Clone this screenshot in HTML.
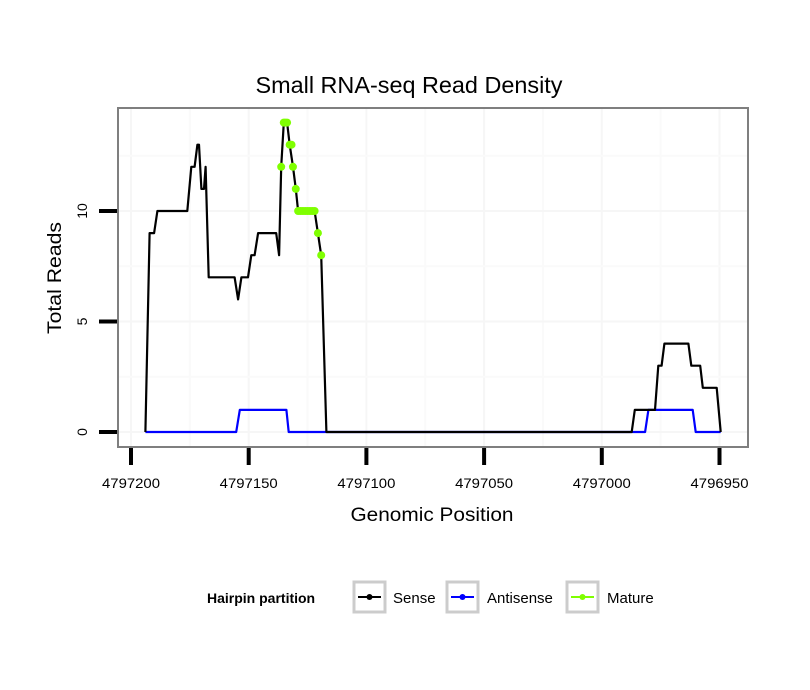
<!DOCTYPE html>
<html><head><meta charset="utf-8"><style>
body{margin:0;background:#fff;}
svg{display:block;font-family:"Liberation Sans",sans-serif;}
</style></head><body>
<svg id="chart" width="810" height="690">
<text x="409" y="93" font-size="23" fill="#000" text-anchor="middle" textLength="307" lengthAdjust="spacingAndGlyphs">Small RNA-seq Read Density</text>
<g id="grid"></g>
<g id="series"></g>
<rect x="118" y="108" width="630" height="339" fill="none" stroke="#7f7f7f" stroke-width="2"/>
<g id="axes"></g>
<text x="432" y="521" text-anchor="middle" font-size="19" textLength="163" lengthAdjust="spacingAndGlyphs">Genomic Position</text>
<text transform="translate(61,278) rotate(-90)" text-anchor="middle" font-size="19" textLength="112" lengthAdjust="spacingAndGlyphs">Total Reads</text>
<g>
<text x="207" y="603" font-size="14" font-weight="bold">Hairpin partition</text>
<g>
<rect x="354" y="582" width="31" height="30" fill="#fff" stroke="#ccc" stroke-width="3"/>
<line x1="358" y1="597" x2="381" y2="597" stroke="#000" stroke-width="2"/><circle cx="369.5" cy="597" r="3" fill="#000"/>
<text x="393" y="603" font-size="15">Sense</text></g>
<g>
<rect x="447" y="582" width="31" height="30" fill="#fff" stroke="#ccc" stroke-width="3"/>
<line x1="451" y1="597" x2="474" y2="597" stroke="#0000ff" stroke-width="2"/><circle cx="462.5" cy="597" r="3" fill="#0000ff"/>
<text x="487" y="603" font-size="15">Antisense</text></g>
<g>
<rect x="567" y="582" width="31" height="30" fill="#fff" stroke="#ccc" stroke-width="3"/>
<line x1="571" y1="597" x2="594" y2="597" stroke="#7fff00" stroke-width="2"/><circle cx="582.5" cy="597" r="3" fill="#7fff00"/>
<text x="607" y="603" font-size="15">Mature</text></g>
</g>
</svg>
<script>
const xTicks=[4797200,4797150,4797100,4797050,4797000,4796950];
const yTicks=[0,5,10];
const senseOff=[6.1,7.9,9.8,11.2,23.9,25.6,27,28.2,28.9,29.9,31,31.7,33,44,45.5,46.9,49.7,51.1,52.5,54,61.7,62.9,63.8,64.9,66.3,67.4,68.8,70,71,78,79.4,80.8,83,212.7,214,222.6,224,225.4,226.6,236.8,238,241.8,242.9,248.8,250.5];
const senseVal=[0,9,9,10,10,12,12,13,13,11,11,12,7,7,6,7,7,8,8,9,9,8,12,14,14,13,12,11,10,10,9,8,0,0,1,1,3,3,4,4,3,3,2,2,0];
const antiOff=[6.1,44.7,46.2,66,67,213,218.4,219.8,238.6,239.9,250.5];
const antiVal=[0,0,1,1,0,0,0,1,1,0,0];
const matureOff=[63.8,64.9,65.5,66.3,67.4,68.2,68.8,70,71,72,73,74,75,76,77,78,79.4,80.8];
const matureVal=[12,14,14,14,13,13,12,11,10,10,10,10,10,10,10,10,9,8];
const base=4797200;
const X=p=>131+(4797200-p)*2.354;
const Y=v=>432-v*22.1;
const NS='http://www.w3.org/2000/svg';
function mk(t,a,parent){const e=document.createElementNS(NS,t);for(const k in a)e.setAttribute(k,a[k]);parent.appendChild(e);return e;}
const grid=document.getElementById('grid'),axes=document.getElementById('axes'),ser=document.getElementById('series');
mk('rect',{x:118,y:108,width:630,height:339,fill:'#fff'},grid);
for(let i=0;i<xTicks.length;i++){
 const x=X(xTicks[i]);
 if(x>118&&x<748){const g=mk('line',{x1:x,x2:x,y1:108,y2:447,stroke:'#f6f6f6','stroke-width':2},grid);}
 if(i<xTicks.length-1){const xm=X((xTicks[i]+xTicks[i+1])/2);const g=mk('line',{x1:xm,x2:xm,y1:108,y2:447,stroke:'#fafafa','stroke-width':2},grid);}
 const t=mk('line',{x1:x,x2:x,y1:448,y2:465,stroke:'#000','stroke-width':4},axes);
 
 
 const l=mk('text',{x:x,y:488,'text-anchor':'middle','font-size':14,textLength:58,lengthAdjust:'spacingAndGlyphs'},axes);l.textContent=xTicks[i];
 
 
}
for(let i=0;i<yTicks.length;i++){
 const y=Y(yTicks[i]);
 const g=mk('line',{x1:118,x2:748,y1:y,y2:y,stroke:'#f6f6f6','stroke-width':2},grid);
 const ym=Y(yTicks[i]+2.5);const gm=mk('line',{x1:118,x2:748,y1:ym,y2:ym,stroke:'#fafafa','stroke-width':2},grid);
 const t=mk('line',{x1:99,x2:117,y1:y,y2:y,stroke:'#000','stroke-width':4},axes);
 
 
 const l=mk('text',{transform:`translate(87,${y}) rotate(-90)`,'text-anchor':'middle','font-size':14},axes);l.textContent=yTicks[i];
 
 
}
function path(off,val,color){
 const d=off.map((o,i)=>(i?'L':'M')+X(base-o).toFixed(1)+','+Y(val[i]).toFixed(1)).join('');
 return mk('path',{d:d,fill:'none',stroke:color,'stroke-width':2.2,'stroke-linejoin':'round'},ser);
}
const a=path(antiOff,antiVal,'#0000ff');


const s=path(senseOff,senseVal,'#000');


for(let i=0;i<matureOff.length;i++){
 const c=mk('circle',{cx:X(base-matureOff[i]),cy:Y(matureVal[i]),r:4,fill:'#7fff00'},ser);
 
 
}
</script>
</body></html>
